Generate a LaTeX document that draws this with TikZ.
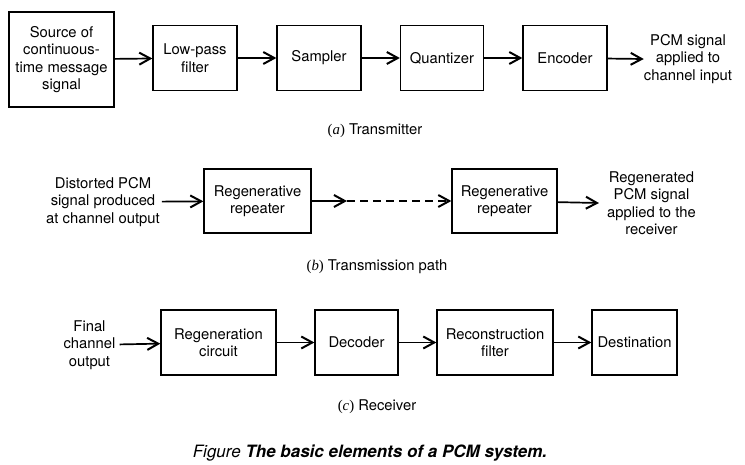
\documentclass[tikz,border=0pt]{standalone}
\usepackage{fontspec}
\setmainfont{TeX Gyre Heros}
\newfontfamily\capserif{Liberation Serif}
\usetikzlibrary{arrows.meta}

\begin{document}
\begin{tikzpicture}[x = 1pt, y = -1pt,
	bloco/.style = {draw, line width = 1.3pt, align = center, inner sep = 0pt, minimum height = 65pt},
	texto/.style = {align = center, inner sep = 2pt},
	seta/.style  = {line width = 1.7pt, -{Straight Barb[length = 11pt, width = 12pt, line width = 2pt]}},
	font = \fontsize{14.8}{17.5}\selectfont]

	\useasboundingbox (0, 0) rectangle (745, 464);

	%%% (a) TRANSMISSOR %%%

	\node[bloco, minimum width = 105pt, minimum height = 95pt] (fonte) at ( 61.5, 59.5) {Source of\\continuous-\\time message\\signal};
	\node[bloco, minimum width = 84pt] (passabaixa) at (195, 58) {Low-pass\\filter};
	\node[bloco, minimum width = 84pt] (amostrador) at (319, 58) {Sampler};
	\node[bloco, minimum width = 83pt] (quantizador) at (442, 58) {Quantizer};
	\node[bloco, minimum width = 84pt] (codificador) at (565, 58) {Encoder};
	\node[texto, inner sep = 0pt] (saidaA) at (688, 59) {PCM signal\\applied to\\channel input};

	\draw[seta] (fonte) -- (passabaixa);
	\draw[seta] (passabaixa) -- (amostrador);
	\draw[seta] (amostrador) -- (quantizador);
	\draw[seta] (quantizador) -- (codificador);
	\draw[seta] (codificador) -- (saidaA.west);

	\node (legA) at (375, 131) {{\capserif(\textit{a})} Transmitter};

	%%% (b) CAMINHO DE TRANSMISSAO %%%

	\node[texto] (entradaB) at (103, 202) {Distorted PCM\\signal produced\\at channel output};
	\node[bloco, minimum width = 107pt, minimum height = 64pt] (repetidorA) at (257.5, 201) {Regenerative\\repeater};
	\node[bloco, minimum width = 105pt, minimum height = 64pt] (repetidorB) at (504.5, 201) {Regenerative\\repeater};
	\node[texto, inner xsep = 8pt] (saidaB) at (651.5, 203) {Regenerated\\PCM signal\\applied to the\\receiver};
	\coordinate (meio) at (347, 201);

	\draw[seta] (entradaB) -- (repetidorA);
	\draw[seta] (repetidorA) -- (meio);
	\draw[seta, dash pattern = on 8pt off 5pt] (meio) -- (repetidorB);
	\draw[seta] (repetidorB) -- (saidaB.west);

	\node (legB) at (377, 267) {{\capserif(\textit{b})} Transmission path};

	%%% (c) RECEPTOR %%%

	\node[texto, inner sep = 4pt] (entradaC) at (89.5, 345) {Final\\channel\\output};
	\node[bloco, minimum width = 115pt] (regeneracao) at (218.5, 342.5) {Regeneration\\circuit};
	\node[bloco, minimum width = 83pt] (decodificador) at (356.5, 342.5) {Decoder};
	\node[bloco, minimum width = 116pt] (reconstrucao) at (495, 342.5) {Reconstruction\\filter};
	\node[bloco, minimum width = 85pt] (destino) at (634.5, 342.5) {Destination};

	\draw[seta] (entradaC) -- (regeneracao);
	\draw[seta] (regeneracao) -- (decodificador);
	\draw[seta] (decodificador) -- (reconstrucao);
	\draw[seta] (reconstrucao) -- (destino);

	\node (legC) at (377, 407) {{\capserif(\textit{c})} Receiver};

	%%% LEGENDA %%%

	\node[font = \fontsize{17}{20}\selectfont] (figura) at (370, 453) {\itshape Figure \bfseries The basic elements of a PCM system.};

\end{tikzpicture}
\end{document}
